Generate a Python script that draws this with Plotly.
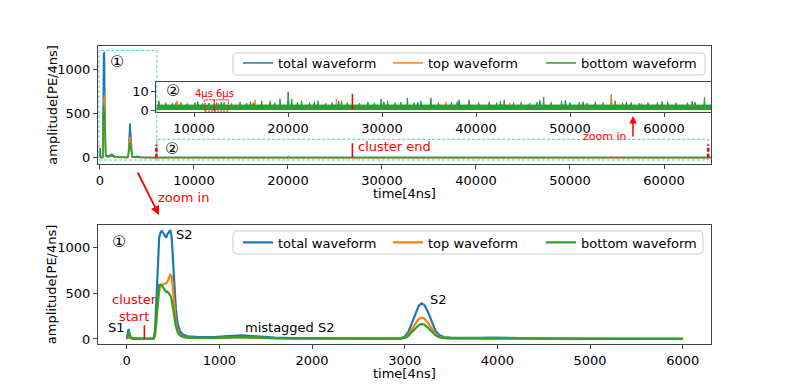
import plotly.graph_objects as go

W, H = 789, 387

# waveform of the cluster (time in 4 ns samples, PE/4ns)
wave_t = [0, 10, 20, 30, 45, 70, 120, 200, 290, 305, 320, 335, 350, 365, 380, 395,
          410, 425, 440, 455, 470, 485, 500, 515, 530, 550, 575, 610, 660, 750, 850,
          950, 1050, 1150, 1250, 1350, 1450, 1600, 1800, 2100, 2400, 2700, 2950, 3000,
          3040, 3080, 3120, 3150, 3180, 3210, 3250, 3290, 3330, 3370, 3420, 3500, 3650,
          3800, 3950, 4100, 4400, 4800, 5300, 6000]
total_wave = [2, 40, 110, 55, 15, 6, 3, 2, 5, 90, 420, 850, 1110, 1170, 1185, 1160,
              1130, 1110, 1150, 1180, 1195, 1120, 850, 560, 330, 170, 85, 45, 30, 24, 20,
              22, 30, 38, 40, 32, 22, 15, 11, 8, 6, 5, 8, 25,
              80, 190, 300, 360, 390, 375, 300, 190, 95, 45, 22, 14, 11,
              12, 16, 12, 7, 4, 3, 2]
top_wave = [1, 12, 25, 12, 5, 3, 1, 1, 2, 30, 160, 370, 520, 575, 595, 600,
            605, 610, 630, 660, 705, 690, 520, 330, 190, 95, 45, 22, 14, 11, 9,
            10, 14, 18, 19, 15, 10, 7, 5, 4, 3, 2, 4, 12,
            45, 110, 180, 220, 235, 225, 180, 110, 55, 25, 12, 7, 5,
            6, 8, 6, 3, 2, 1, 1]
bottom_wave = [1, 28, 85, 42, 10, 3, 2, 1, 3, 60, 260, 480, 590, 595, 585, 560,
               530, 515, 520, 505, 480, 430, 330, 230, 140, 75, 40, 23, 16, 13, 11,
               12, 16, 20, 21, 17, 12, 8, 6, 4, 3, 3, 4, 12,
               35, 80, 125, 150, 165, 158, 125, 80, 42, 20, 10, 7, 6,
               6, 8, 6, 4, 2, 2, 1]

# long tail after the zoomed window: a noise band plus the spikes sticking out of it
total_base = 2.6
top_base = 1.2
bottom_base = 2.6
total_spike_t = [8100, 10400, 12900, 16000, 20030, 22800, 25400, 30200, 33800, 38200,
                 42600, 46800, 49500, 51400, 54400, 56000, 59800, 63000]
total_spike_v = [4.0, 4.5, 4.2, 4.5, 9.8, 4.5, 4.8, 4.5, 4.3, 5.5,
                 4.6, 5.2, 5.2, 4.5, 8.3, 4.4, 4.6, 4.8]
top_spike_t = [8200, 12600, 16500, 25150, 35200, 36800, 43600, 54400, 57600]
top_spike_v = [5.0, 3.8, 5.5, 6.0, 5.5, 4.5, 3.8, 8.0, 3.6]
bottom_spike_t = [6275, 7000, 7700, 8600, 9300, 10100, 10900, 11600, 12400, 13200,
                  14000, 14900, 15600, 16300, 17200, 18100, 18600, 19150, 20030, 20400,
                  21000, 21450, 22300, 23200, 24000, 24700, 25700, 26300, 27600, 28500,
                  29200, 29900, 30600, 31400, 32000, 32700, 33400, 34150, 35200, 36000,
                  37400, 38000, 39250, 40300, 41400, 42200, 43000, 44000, 44800, 45700,
                  46500, 47200, 48000, 49100, 50000, 51000, 51800, 52700, 53500, 54800,
                  55600, 56500, 57400, 58300, 59300, 60400, 61300, 62500, 63300, 64300]
bottom_spike_v = [5.0, 4.0, 3.8, 4.2, 3.6, 4.0, 3.5, 3.8, 4.0, 4.4,
                  3.6, 4.5, 3.8, 4.0, 5.0, 5.0, 4.0, 6.0, 9.5, 6.0,
                  4.2, 5.0, 4.0, 5.0, 3.8, 4.2, 5.0, 4.0, 3.8, 4.5,
                  4.0, 6.0, 5.0, 4.0, 4.3, 6.5, 4.0, 5.0, 6.5, 4.0,
                  4.2, 4.5, 5.5, 4.0, 4.5, 4.0, 5.5, 4.0, 4.2, 3.8,
                  4.3, 7.0, 4.2, 5.0, 4.0, 4.3, 3.8, 4.5, 4.0, 5.0,
                  4.0, 4.2, 3.8, 4.0, 4.2, 4.5, 4.0, 4.0, 4.3, 7.0]

cluster_start = 190
cluster_end = 26850
window_t = [6000, 64700]
veto_t = [11150, 12150, 13650]  # 4us and 6us windows

BLUE, ORANGE, GREEN = "#1f77b4", "#ff7f0e", "#2ca02c"
RED, CYAN = "#ff0000", "#48D1CC"
FONT = "DejaVu Sans"


def noise_line(base, spike_t, spike_v, t0=6000, t1=65000, half=60):
    xs, ys = [t0], [base]
    for t, v in zip(spike_t, spike_v):
        xs += [t - half, t, t + half]
        ys += [base, v, base]
    xs.append(t1)
    ys.append(base)
    return xs, ys


def px_x(p):
    return p / W


def px_y(p):
    return 1 - p / H


def round_box(x0, y0, x1, y1, r=4):
    # rounded legend frame, corners given in pixels
    X = lambda p: f"{px_x(p):.5f}"
    Y = lambda p: f"{px_y(p):.5f}"
    return (f"M{X(x0 + r)},{Y(y0)} L{X(x1 - r)},{Y(y0)} Q{X(x1)},{Y(y0)} {X(x1)},{Y(y0 + r)} "
            f"L{X(x1)},{Y(y1 - r)} Q{X(x1)},{Y(y1)} {X(x1 - r)},{Y(y1)} "
            f"L{X(x0 + r)},{Y(y1)} Q{X(x0)},{Y(y1)} {X(x0)},{Y(y1 - r)} "
            f"L{X(x0)},{Y(y0 + r)} Q{X(x0)},{Y(y0)} {X(x0 + r)},{Y(y0)} Z")


series = [
    ("total waveform", BLUE, total_wave, total_base, total_spike_t, total_spike_v),
    ("top waveform", ORANGE, top_wave, top_base, top_spike_t, top_spike_v),
    ("bottom waveform", GREEN, bottom_wave, bottom_base, bottom_spike_t, bottom_spike_v),
]
# one legend per entry so each sits where matplotlib put it (left edge in px)
legend_x = [238, 388, 541]

fig = go.Figure()
legends = {}
for i, (name, color, wave, base, st, sv) in enumerate(series):
    nx, ny = noise_line(base, st, sv)
    top_leg = "legend" if i == 0 else f"legend{i + 1}"
    bot_leg = f"legend{i + 4}"
    # full waveform
    fig.add_trace(go.Scatter(x=wave_t + nx, y=wave + ny, mode="lines", name=name,
                             line=dict(color=color, width=1.5), xaxis="x", yaxis="y",
                             legend=top_leg))
    # inset (tail only)
    fig.add_trace(go.Scatter(x=nx, y=ny, mode="lines", showlegend=False,
                             line=dict(color=color, width=1), fill="tozeroy",
                             fillcolor=color, xaxis="x2", yaxis="y2"))
    # zoomed cluster
    fig.add_trace(go.Scatter(x=wave_t, y=wave, mode="lines", name=name,
                             line=dict(color=color, width=2.2), xaxis="x3", yaxis="y3",
                             legend=bot_leg))
    leg = dict(orientation="h", xanchor="left", yanchor="top", bgcolor="rgba(0,0,0,0)",
               borderwidth=0, font=dict(size=13), x=px_x(legend_x[i]))
    legends[top_leg] = dict(leg, y=px_y(48))
    legends[bot_leg] = dict(leg, y=px_y(227.5))

axis = dict(showline=True, mirror=True, linecolor="#444", linewidth=1, ticks="outside",
            ticklen=4, tickcolor="#444", showgrid=False, zeroline=False, automargin=False,
            tickfont=dict(family=FONT, size=13, color="black"), tickformat="d")

fig.update_layout(
    width=W, height=H, margin=dict(l=0, r=0, t=0, b=0, autoexpand=False),
    paper_bgcolor="white", plot_bgcolor="white",
    font=dict(family=FONT, size=13, color="black"),
    xaxis=dict(axis, domain=[px_x(98), px_x(711)], range=[-210, 65000], dtick=10000, anchor="y"),
    yaxis=dict(axis, domain=[px_y(164), px_y(46)], range=[-70, 1260], dtick=500, anchor="x"),
    xaxis2=dict(axis, domain=[px_x(156.4), px_x(711)], range=[6000, 65000], dtick=10000,
                anchor="y2"),
    yaxis2=dict(axis, domain=[px_y(112), px_y(82)], range=[-1, 15], tickvals=[0, 10],
                anchor="x2"),
    xaxis3=dict(axis, domain=[px_x(98), px_x(711)], range=[-310, 6305], dtick=1000, anchor="y3"),
    yaxis3=dict(axis, domain=[px_y(344), px_y(225)], range=[-55, 1250], dtick=500, anchor="x3"),
    **legends,
)

dash_cyan = dict(color=CYAN, width=1, dash="3px,2px")
frame = dict(color="#cccccc", width=1)
shapes = [
    dict(type="path", xref="paper", yref="paper", path=round_box(233, 53, 705, 75),
         line=frame, fillcolor="rgba(255,255,255,0.8)"),
    dict(type="path", xref="paper", yref="paper", path=round_box(233, 231, 703, 254),
         line=frame, fillcolor="rgba(255,255,255,0.8)"),
    dict(type="rect", xref="x", yref="y", x0=-100, x1=6050, y0=-25, y1=1210, line=dash_cyan),
    dict(type="rect", xref="x", yref="y", x0=6050, x1=window_t[1], y0=-25, y1=208, line=dash_cyan),
    dict(type="line", xref="x", yref="y", x0=cluster_end, x1=cluster_end, y0=0, y1=165,
         line=dict(color=RED, width=1.5)),
    dict(type="line", xref="x2", yref="y2", x0=cluster_end, x1=cluster_end, y0=0, y1=8.7,
         line=dict(color=RED, width=1.5)),
    dict(type="line", xref="x3", yref="y3", x0=cluster_start, x1=cluster_start, y0=0, y1=150,
         line=dict(color=RED, width=1.5)),
]
for t in window_t:
    shapes.append(dict(type="line", xref="x", yref="y", x0=t, x1=t, y0=0, y1=150,
                       line=dict(color=RED, width=2.5, dash="4px,2px")))
for a, b in zip(veto_t[:-1], veto_t[1:]):
    shapes.append(dict(type="rect", xref="x2", yref="y2", x0=a, x1=b, y0=-0.5, y1=5.5,
                       line=dict(color=RED, width=1, dash="2px,1px")))
fig.update_layout(shapes=shapes)

mid = dict(xanchor="center", yanchor="middle", showarrow=False, borderpad=0)
ann = [
    # axis titles
    dict(mid, text="amplitude[PE/4ns]", xref="paper", yref="paper", x=px_x(51.7), y=px_y(105),
         textangle=-90),
    dict(mid, text="amplitude[PE/4ns]", xref="paper", yref="paper", x=px_x(51.7),
         y=px_y(284.5), textangle=-90),
    dict(mid, text="time[4ns]", xref="paper", yref="paper", x=px_x(404.5), y=px_y(193)),
    dict(mid, text="time[4ns]", xref="paper", yref="paper", x=px_x(404.5), y=px_y(373)),
    # labels of the full waveform
    dict(mid, text="①", xref="x", yref="y", x=1800, y=1083, font=dict(size=16)),
    dict(mid, text="②", xref="x", yref="y", x=7660, y=110, font=dict(size=16)),
    dict(mid, text="②", xref="x2", yref="y2", x=7725, y=10.4, font=dict(size=16)),
    dict(mid, text="4μs", xref="x2", yref="y2", x=11090, y=9.1, font=dict(color=RED, size=10)),
    dict(mid, text="6μs", xref="x2", yref="y2", x=13280, y=9.1, font=dict(color=RED, size=10)),
    dict(mid, text="cluster end", xref="x", yref="y", x=27340, y=124, xanchor="left",
         font=dict(color=RED, size=13)),
    dict(mid, text="zoom in", xref="x", yref="y", x=56170, y=240, xanchor="right",
         font=dict(color=RED, size=11)),
    dict(text="", xref="x", yref="y", x=56700, y=471, axref="x", ayref="y", ax=56700, ay=223,
         showarrow=True, arrowcolor=RED, arrowwidth=1.5, arrowhead=2, arrowsize=1),
    dict(text="", xref="paper", yref="paper", x=px_x(159), y=px_y(215), ax=-22, ay=-44,
         showarrow=True, arrowcolor=RED, arrowwidth=1.8, arrowhead=2, arrowsize=1),
    dict(mid, text="zoom in", xref="paper", yref="paper", x=px_x(157), y=px_y(197.7),
         xanchor="left", font=dict(color=RED, size=13)),
    # labels of the zoomed cluster
    dict(mid, text="①", xref="x3", yref="y3", x=-83, y=1066, font=dict(size=16)),
    dict(mid, text="S2", xref="x3", yref="y3", x=522, y=1143, xanchor="left"),
    dict(mid, text="cluster<br>start", xref="x3", yref="y3", x=84, y=335,
         font=dict(color=RED, size=13)),
    dict(mid, text="S1", xref="x3", yref="y3", x=-108, y=121),
    dict(mid, text="mistagged S2", xref="x3", yref="y3", x=1268, y=124, xanchor="left"),
    dict(mid, text="S2", xref="x3", yref="y3", x=3260, y=429, xanchor="left"),
]
fig.update_layout(annotations=ann)

# the page's default body margin would shift the figure by 8px
fig.write_html("out.html", config={"displayModeBar": False},
               post_script="document.body.style.margin='0px';")
